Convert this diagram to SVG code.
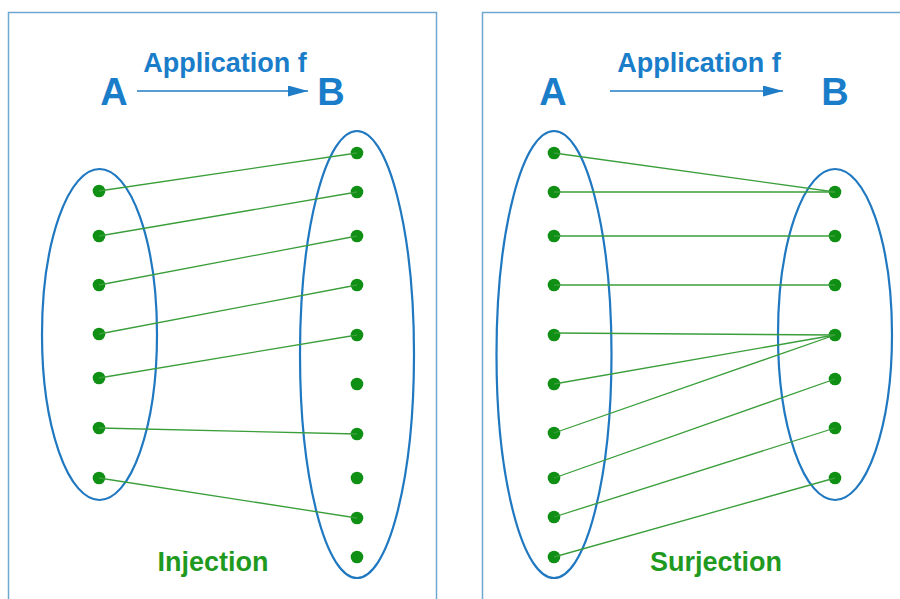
<svg xmlns="http://www.w3.org/2000/svg" width="900" height="599" viewBox="0 0 900 599">
<defs>
<style>
.panel{fill:#ffffff;stroke:#6ea8cf;stroke-width:1.5}
.set{fill:none;stroke:#1f78c0;stroke-width:2.2}
.dot{fill:#0f8f14}
.lnk{stroke:#3a9e3a;stroke-width:1.3;fill:none}
.arr{stroke:#1f7cc6;stroke-width:1.6;fill:none}
.big{font-family:"Liberation Sans",Arial,sans-serif;font-weight:bold;font-size:38px;fill:#1a7dc9}
.ttl{font-family:"Liberation Sans",Arial,sans-serif;font-weight:bold;font-size:27px;fill:#1a7dc9}
.cap{font-family:"Liberation Sans",Arial,sans-serif;font-weight:bold;font-size:27px;fill:#1f9a1f}
</style>
<marker id="ah" viewBox="0 0 10 10" refX="10" refY="5" markerWidth="20" markerHeight="11" markerUnits="userSpaceOnUse" orient="auto" preserveAspectRatio="none">
<path d="M0,0 L10,5 L0,10 z" fill="#1f7cc6"/>
</marker>
</defs>
<rect width="900" height="599" fill="#ffffff"/>

<g id="panel-injection">
<rect class="panel" x="8.5" y="12.5" width="428" height="600"/>
<text class="ttl" x="225" y="72" text-anchor="middle">Application f</text>
<text class="big" x="114" y="105" text-anchor="middle">A</text>
<text class="big" x="331" y="105" text-anchor="middle">B</text>
<line class="arr" x1="137" y1="91" x2="308" y2="91" marker-end="url(#ah)"/>
<text class="cap" x="213" y="571" text-anchor="middle">Injection</text>
</g>

<g id="inj-set-A">
<ellipse class="set" cx="99.5" cy="334.5" rx="57.5" ry="165.5"/>
<circle class="dot" cx="99" cy="191" r="6.3"/>
<circle class="dot" cx="99" cy="236" r="6.3"/>
<circle class="dot" cx="99" cy="285" r="6.3"/>
<circle class="dot" cx="99" cy="334" r="6.3"/>
<circle class="dot" cx="99" cy="378" r="6.3"/>
<circle class="dot" cx="99" cy="428" r="6.3"/>
<circle class="dot" cx="99" cy="478" r="6.3"/>
</g>

<g id="inj-set-B">
<ellipse class="set" cx="357" cy="354.5" rx="57" ry="223.5"/>
<circle class="dot" cx="357" cy="153" r="6.3"/>
<circle class="dot" cx="357" cy="192" r="6.3"/>
<circle class="dot" cx="357" cy="236" r="6.3"/>
<circle class="dot" cx="357" cy="285" r="6.3"/>
<circle class="dot" cx="357" cy="335" r="6.3"/>
<circle class="dot" cx="357" cy="384" r="6.3"/>
<circle class="dot" cx="357" cy="434" r="6.3"/>
<circle class="dot" cx="357" cy="478" r="6.3"/>
<circle class="dot" cx="357" cy="518" r="6.3"/>
<circle class="dot" cx="357" cy="557" r="6.3"/>
</g>

<g id="panel-surjection">
<rect class="panel" x="482.5" y="12.5" width="430" height="600"/>
<text class="ttl" x="699" y="72" text-anchor="middle">Application f</text>
<text class="big" x="553" y="105" text-anchor="middle">A</text>
<text class="big" x="835" y="105" text-anchor="middle">B</text>
<line class="arr" x1="610" y1="91" x2="783" y2="91" marker-end="url(#ah)"/>
<text class="cap" x="716" y="571" text-anchor="middle">Surjection</text>
</g>

<g id="surj-set-A">
<ellipse class="set" cx="554" cy="354.5" rx="57.5" ry="223.5"/>
<circle class="dot" cx="554" cy="153" r="6.3"/>
<circle class="dot" cx="554" cy="192" r="6.3"/>
<circle class="dot" cx="554" cy="236" r="6.3"/>
<circle class="dot" cx="554" cy="285" r="6.3"/>
<circle class="dot" cx="554" cy="335" r="6.3"/>
<circle class="dot" cx="554" cy="384" r="6.3"/>
<circle class="dot" cx="554" cy="433" r="6.3"/>
<circle class="dot" cx="554" cy="478" r="6.3"/>
<circle class="dot" cx="554" cy="517" r="6.3"/>
<circle class="dot" cx="554" cy="557" r="6.3"/>
</g>

<g id="surj-set-B">
<ellipse class="set" cx="835" cy="334.5" rx="57" ry="165.5"/>
<circle class="dot" cx="835" cy="192" r="6.3"/>
<circle class="dot" cx="835" cy="236" r="6.3"/>
<circle class="dot" cx="835" cy="285" r="6.3"/>
<circle class="dot" cx="835" cy="335" r="6.3"/>
<circle class="dot" cx="835" cy="379" r="6.3"/>
<circle class="dot" cx="835" cy="428" r="6.3"/>
<circle class="dot" cx="835" cy="478" r="6.3"/>
</g>

<g id="connectors">
<line class="lnk" x1="99" y1="191" x2="357" y2="153"/>
<line class="lnk" x1="99" y1="236" x2="357" y2="192"/>
<line class="lnk" x1="99" y1="285" x2="357" y2="236"/>
<line class="lnk" x1="99" y1="334" x2="357" y2="285"/>
<line class="lnk" x1="99" y1="378" x2="357" y2="335"/>
<line class="lnk" x1="99" y1="428" x2="357" y2="434"/>
<line class="lnk" x1="99" y1="478" x2="357" y2="518"/>

<line class="lnk" x1="554" y1="153" x2="835" y2="192"/>
<line class="lnk" x1="554" y1="192" x2="835" y2="192"/>
<line class="lnk" x1="554" y1="236" x2="835" y2="236"/>
<line class="lnk" x1="554" y1="285" x2="835" y2="285"/>
<line class="lnk" x1="554" y1="333" x2="835" y2="335"/>
<line class="lnk" x1="554" y1="384" x2="835" y2="335"/>
<line class="lnk" x1="554" y1="433" x2="835" y2="335"/>
<line class="lnk" x1="554" y1="478" x2="835" y2="379"/>
<line class="lnk" x1="554" y1="517" x2="835" y2="428"/>
<line class="lnk" x1="554" y1="557" x2="835" y2="478"/>
</g>
</svg>
